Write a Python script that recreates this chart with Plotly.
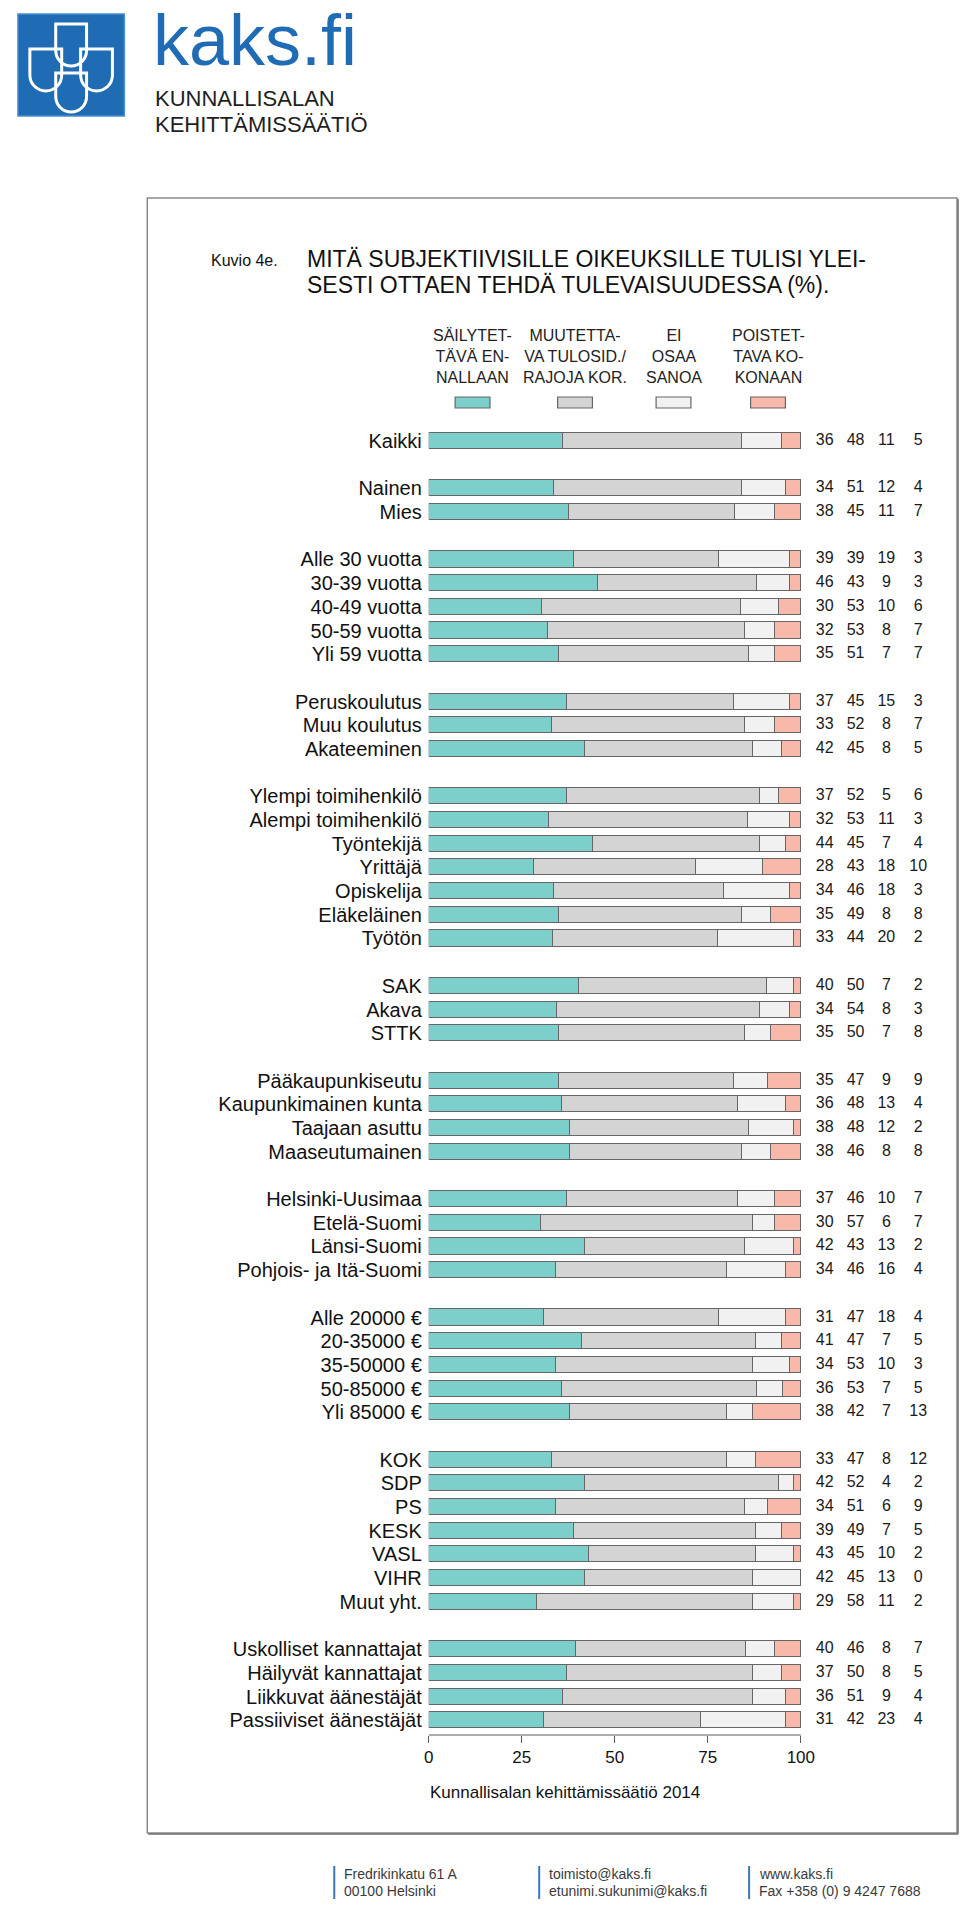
import plotly.graph_objects as go

# ---------------- data ----------------
categories = [
    "Kaikki",
    "Nainen", "Mies",
    "Alle 30 vuotta", "30-39 vuotta", "40-49 vuotta", "50-59 vuotta", "Yli 59 vuotta",
    "Peruskoulutus", "Muu koulutus", "Akateeminen",
    "Ylempi toimihenkilö", "Alempi toimihenkilö", "Työntekijä", "Yrittäjä",
    "Opiskelija", "Eläkeläinen", "Työtön",
    "SAK", "Akava", "STTK",
    "Pääkaupunkiseutu", "Kaupunkimainen kunta", "Taajaan asuttu", "Maaseutumainen",
    "Helsinki-Uusimaa", "Etelä-Suomi", "Länsi-Suomi", "Pohjois- ja Itä-Suomi",
    "Alle 20000 €", "20-35000 €", "35-50000 €", "50-85000 €", "Yli 85000 €",
    "KOK", "SDP", "PS", "KESK", "VASL", "VIHR", "Muut yht.",
    "Uskolliset kannattajat", "Häilyvät kannattajat", "Liikkuvat äänestäjät",
    "Passiiviset äänestäjät",
]
group_sizes = [1, 2, 5, 3, 7, 3, 4, 4, 5, 7, 4]

sailytettava = [36, 34, 38, 39, 46, 30, 32, 35, 37, 33, 42, 37, 32, 44, 28, 34, 35, 33,
                40, 34, 35, 35, 36, 38, 38, 37, 30, 42, 34, 31, 41, 34, 36, 38,
                33, 42, 34, 39, 43, 42, 29, 40, 37, 36, 31]
muutettava = [48, 51, 45, 39, 43, 53, 53, 51, 45, 52, 45, 52, 53, 45, 43, 46, 49, 44,
              50, 54, 50, 47, 48, 48, 46, 46, 57, 43, 46, 47, 47, 53, 53, 42,
              47, 52, 51, 49, 45, 45, 58, 46, 50, 51, 42]
ei_osaa = [11, 12, 11, 19, 9, 10, 8, 7, 15, 8, 8, 5, 11, 7, 18, 18, 8, 20,
           7, 8, 7, 9, 13, 12, 8, 10, 6, 13, 16, 18, 7, 10, 7, 7,
           8, 4, 6, 7, 10, 13, 11, 8, 8, 9, 23]
poistettava = [5, 4, 7, 3, 3, 6, 7, 7, 3, 7, 5, 6, 3, 4, 10, 3, 8, 2,
               2, 3, 8, 9, 4, 2, 8, 7, 7, 2, 4, 4, 5, 3, 5, 13,
               12, 2, 9, 5, 2, 0, 2, 7, 5, 4, 4]

series_names = ["SÄILYTET-<br>TÄVÄ EN-<br>NALLAAN",
                "MUUTETTA-<br>VA TULOSID./<br>RAJOJA KOR.",
                "EI<br>OSAA<br>SANOA",
                "POISTET-<br>TAVA KO-<br>KONAAN"]
series_colors = ["#7dcfcc", "#d4d4d4", "#f1f1f1", "#f9b9aa"]
x_ticks = [0, 25, 50, 75, 100]

title_prefix = "Kuvio 4e."
title_lines = ["MITÄ SUBJEKTIIVISILLE OIKEUKSILLE TULISI YLEI-",
               "SESTI OTTAEN TEHDÄ TULEVAISUUDESSA (%)."]
source_text = "Kunnallisalan kehittämissäätiö 2014"
footer_cols = [["Fredrikinkatu 61 A", "00100 Helsinki"],
               ["toimisto@kaks.fi", "etunimi.sukunimi@kaks.fi"],
               ["www.kaks.fi", "Fax +358 (0) 9 4247 7688"]]

# ---------------- layout geometry (pixels) ----------------
W, H = 960, 1911
FONT = "Liberation Sans, Arial, Helvetica, sans-serif"
X0, X100 = 426, 800
X_END = 945
ROW0, STEP = 441, 23.69
Y_TOP, Y_BOT = 420, 1735
NUM_COLS_PX = [824, 855, 886, 918]


def px(x):
    return x / W


def py(y):
    return 1 - y / H


def xd(p):
    return (p - X0) / (X100 - X0) * 100


# slot positions (one empty slot between groups)
slots = []
s = 0
for n in group_sizes:
    for _ in range(n):
        slots.append(s)
        s += 1
    s += 1

series = [sailytettava, muutettava, ei_osaa, poistettava]
totals = [sum(v[i] for v in series) for i in range(len(categories))]

fig = go.Figure()
for vals, name, col in zip(series, series_names, series_colors):
    fig.add_trace(go.Bar(
        x=[v / t * 100 for v, t in zip(vals, totals)], y=slots, orientation="h",
        name=name.replace("<br>", " "), width=0.68,
        marker=dict(color=col, line=dict(color="#666666", width=1.2)),
        showlegend=False, hoverinfo="skip"))

for vals, cpx in zip(series, NUM_COLS_PX):
    fig.add_trace(go.Scatter(
        x=[xd(cpx)] * len(vals), y=slots, mode="text",
        text=[str(v) for v in vals], textposition="middle center",
        textfont=dict(size=16, color="#1a1a1a", family=FONT),
        cliponaxis=False, showlegend=False, hoverinfo="skip"))

shapes = []
annotations = []

# x axis line from 0 to 100 only
shapes.append(dict(type="line", xref="x", yref="paper", x0=0, x1=100,
                   y0=py(Y_BOT), y1=py(Y_BOT), line=dict(color="#5a5a5a", width=1)))

# frame
shapes.append(dict(type="rect", xref="paper", yref="paper",
                   x0=px(143), x1=px(957), y0=py(198), y1=py(1833),
                   line=dict(color="#8a8a8a", width=1.5), fillcolor="rgba(0,0,0,0)",
                   layer="below"))
shapes.append(dict(type="line", xref="paper", yref="paper",
                   x0=px(958), x1=px(958), y0=py(199), y1=py(1834),
                   line=dict(color="#6e6e6e", width=1.5)))
shapes.append(dict(type="line", xref="paper", yref="paper",
                   x0=px(144), x1=px(958), y0=py(1834), y1=py(1834),
                   line=dict(color="#6e6e6e", width=1.5)))

# logo square and emblem
shapes.append(dict(type="rect", xref="paper", yref="paper",
                   x0=px(13), x1=px(120), y0=py(14), y1=py(116),
                   fillcolor="#1f6cb4", line=dict(color="#4a8fd0", width=1.5)))


def shield(L, R, T, B):
    r = (R - L) / 2
    C = (L + R) / 2
    M = B - r
    k = 0.5523 * r
    pts = [("M", [(L, T)]), ("L", [(R, T)]), ("L", [(R, M)]),
           ("C", [(R, M + k), (C + k, B), (C, B)]),
           ("C", [(C - k, B), (L, M + k), (L, M)]), ("Z", [])]
    out = []
    for cmd, ps in pts:
        out.append(cmd + " " + " ".join(f"{px(a):.5f},{py(b):.5f}" for a, b in ps))
    return " ".join(out)


for (L, R, T, B) in [(51, 82, 24, 66), (25, 57, 49, 91), (76, 108, 49, 91), (51, 82, 73, 112)]:
    shapes.append(dict(type="path", xref="paper", yref="paper", path=shield(L, R, T, B),
                       line=dict(color="white", width=3), fillcolor="rgba(0,0,0,0)"))

annotations.append(dict(xref="paper", yref="paper", x=px(147), y=py(40), text="kaks.fi",
                        showarrow=False, xanchor="left", yanchor="middle",
                        font=dict(size=72, color="#1f6cb4", family=FONT)))
annotations.append(dict(xref="paper", yref="paper", x=px(149), y=py(98), text="KUNNALLISALAN",
                        showarrow=False, xanchor="left", yanchor="middle",
                        font=dict(size=22, color="#1e1e1e", family=FONT)))
annotations.append(dict(xref="paper", yref="paper", x=px(149), y=py(124), text="KEHITTÄMISSÄÄTIÖ",
                        showarrow=False, xanchor="left", yanchor="middle",
                        font=dict(size=22, color="#1e1e1e", family=FONT)))

# title
annotations.append(dict(xref="paper", yref="paper", x=px(205), y=py(260), text=title_prefix,
                        showarrow=False, xanchor="left", yanchor="middle",
                        font=dict(size=16, color="#111", family=FONT)))
for i, t in enumerate(title_lines):
    annotations.append(dict(xref="paper", yref="paper", x=px(302), y=py(259 + 26.5 * i), text=t,
                            showarrow=False, xanchor="left", yanchor="middle",
                            font=dict(size=23, color="#111", family=FONT)))

# legend
LEG_X = [470, 573, 672, 767]
for name, col, lx in zip(series_names, series_colors, LEG_X):
    annotations.append(dict(xref="paper", yref="paper", x=px(lx), y=py(356), text=name,
                            showarrow=False, xanchor="center", yanchor="middle",
                            font=dict(size=16, color="#222", family=FONT)))
    shapes.append(dict(type="rect", xref="paper", yref="paper",
                       x0=px(lx - 17.5), x1=px(lx + 17.5), y0=py(397), y1=py(408),
                       fillcolor=col, line=dict(color="#666666", width=1.2)))

# source caption
annotations.append(dict(xref="paper", yref="paper", x=px(563), y=py(1792), text=source_text,
                        showarrow=False, xanchor="center", yanchor="middle",
                        font=dict(size=17, color="#111", family=FONT)))

# footer
for (lines, bx) in zip(footer_cols, [331, 537, 748]):
    shapes.append(dict(type="line", xref="paper", yref="paper",
                       x0=px(bx), x1=px(bx), y0=py(1866), y1=py(1899),
                       line=dict(color="#3a78b8", width=2)))
    for j, t in enumerate(lines):
        annotations.append(dict(xref="paper", yref="paper", x=px(bx + 8), y=py(1874 + 17 * j),
                                text=t, showarrow=False, xanchor="left", yanchor="middle",
                                font=dict(size=14, color="#3a3a3a", family=FONT)))

fig.update_layout(
    width=W, height=H, margin=dict(l=0, r=0, t=0, b=0),
    paper_bgcolor="white", plot_bgcolor="white",
    barmode="stack", bargap=0, showlegend=False,
    font=dict(family=FONT, color="#111"),
    shapes=shapes, annotations=annotations,
    xaxis=dict(domain=[X0 / W, X_END / W], range=[0, xd(X_END)], showline=False,
               ticks="outside", ticklen=7,
               tickwidth=1, tickcolor="#5a5a5a", tickvals=x_ticks,
               tickfont=dict(size=17, color="#111", family=FONT),
               showgrid=False, zeroline=False, fixedrange=True),
    yaxis=dict(domain=[1 - Y_BOT / H, 1 - Y_TOP / H],
               range=[(Y_BOT - ROW0) / STEP, (Y_TOP - ROW0) / STEP],
               tickvals=slots, ticktext=categories, ticks="", showline=False,
               showgrid=False, zeroline=False, ticklabelstandoff=6,
               tickfont=dict(size=20, color="#111", family=FONT), fixedrange=True),
)

fig.write_html("out.html", config={"displayModeBar": False},
               post_script="document.body.style.margin='0px';document.body.style.overflow='hidden';")
